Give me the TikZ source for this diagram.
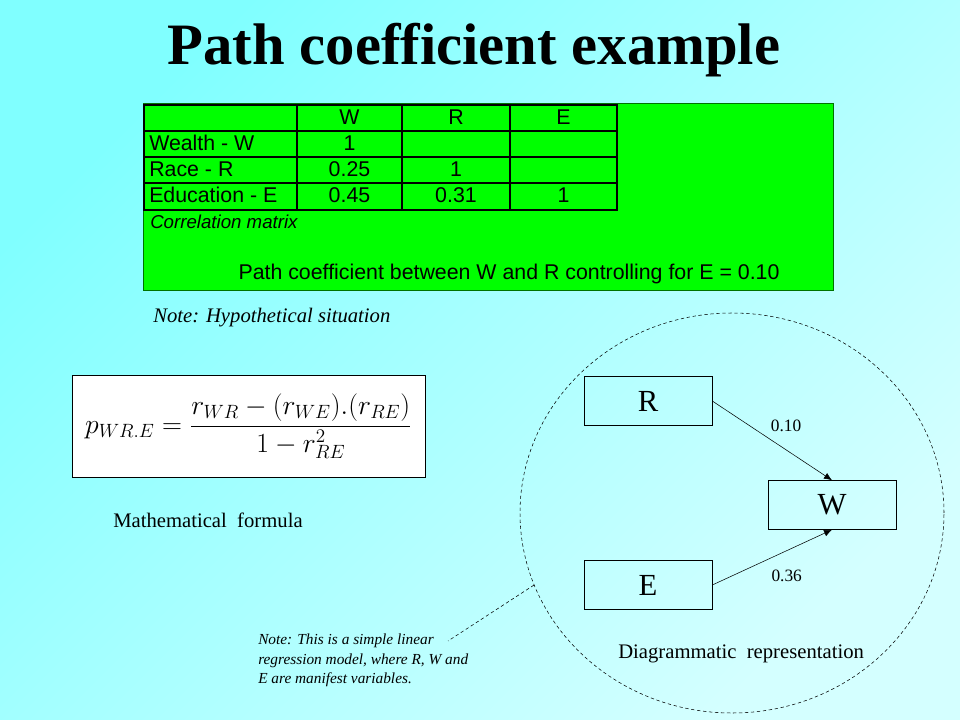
\documentclass[tikz,border=0pt]{standalone}
\usepackage{fontspec}
\setmainfont{Liberation Serif}
\newfontfamily\arialfont{Liberation Sans}
\usetikzlibrary{arrows.meta}
\usetikzlibrary{shapes.geometric}

\definecolor{bgdark}{RGB}{128,255,255}
\definecolor{bglight}{RGB}{212,255,255}
\definecolor{tablegreen}{RGB}{0,255,0}

\tikzset{
  cell/.style={font=\arialfont\fontsize{16}{18}\selectfont, inner sep=0pt},
  tablegrid/.style={line width=1.5pt},
  var/.style={draw, minimum width=96pt, minimum height=36.75pt, inner sep=0pt, font=\fontsize{23}{26}\selectfont},
  coef/.style={font=\fontsize{13}{15}\selectfont},
  caption/.style={font=\fontsize{15.5}{18}\selectfont, inner sep=0pt},
  leader/.style={dash pattern=on 2.5pt off 2pt},
}

\begin{document}
\begin{tikzpicture}[x=0.75pt, y=-0.75pt]
  \useasboundingbox (0,0) rectangle (960,720);
  \shade[top color=bgdark, bottom color=bglight, shading angle=45] (0,0) rectangle (960,720);

  \node[anchor=base, font=\fontsize{44}{50}\selectfont\bfseries] (title) at (474,65) {Path coefficient example};

  % correlation table
  \draw[fill=tablegreen, draw=green!45!black] (143,103) rectangle (833,290);
  \draw[tablegrid] (144,105) rectangle (617,210)
    (144,131) -- (617,131) (144,157) -- (617,157) (144,183) -- (617,183)
    (297,105) -- (297,210) (402,105) -- (402,210) (510,105) -- (510,210);
  \node[cell, anchor=base] (hW) at (349.5,124.5) {W};
  \node[cell, anchor=base] (hR) at (456,124.5) {R};
  \node[cell, anchor=base] (hE) at (563.5,124.5) {E};
  \node[cell, anchor=base west] (rowW) at (149,150.5) {Wealth - W};
  \node[cell, anchor=base west] (rowR) at (149,176.5) {Race - R};
  \node[cell, anchor=base west] (rowE) at (149,202.5) {Education - E};
  \node[cell, anchor=base] (WW) at (349.5,150.5) {1};
  \node[cell, anchor=base] (RW) at (349.5,176.5) {0.25};
  \node[cell, anchor=base] (RR) at (456,176.5) {1};
  \node[cell, anchor=base] (EW) at (349.5,202.5) {0.45};
  \node[cell, anchor=base] (ER) at (456,202.5) {0.31};
  \node[cell, anchor=base] (EE) at (563.5,202.5) {1};
  \node[cell, anchor=base west, font=\arialfont\fontsize{14}{16}\selectfont\itshape] (corr) at (150,229) {Correlation matrix};
  \node[cell, anchor=base] (result) at (509,280) {Path coefficient between W and R controlling for E = 0.10};

  \node[caption, anchor=base west, font=\fontsize{15.5}{18}\selectfont\itshape] (hypo) at (153,322) {Note: Hypothetical situation};

  % formula
  \node[draw, fill=white, minimum width=264.75pt, minimum height=76.5pt, font=\fontsize{20}{24}\selectfont] (formula) at (248.5,426)
    {$\displaystyle p_{WR.E} = \frac{r_{WR} - (r_{WE}).(r_{RE})}{1 - r^{2}_{RE}}$};
  \node[caption, anchor=base west] (formulacap) at (113,527) {Mathematical\ \ formula};

  % path diagram
  \node[draw, leader, ellipse, minimum width=318pt, minimum height=300pt, inner sep=0pt] (model) at (732,513) {};
  \node[var] (R) at (648,401) {R};
  \node[var] (W) at (832,505) {W};
  \node[var] (E) at (648,585) {E};
  \draw[-{Latex[length=6pt,width=5pt]}] (R.east) to node[coef, pos=0.45, above right] {0.10} (W.north);
  \draw[-{Latex[length=6pt,width=5pt]}] (E.east) to node[coef, pos=0.4, below right, xshift=5pt, yshift=-2pt] {0.36} (W.south);
  \node[caption, anchor=base west] (diagcap) at (618,658) {Diagrammatic\ \ representation};

  % note on the model
  \node[anchor=north west, inner sep=0pt, align=left, font=\fontsize{11.5}{14.6}\selectfont\itshape] (note) at (258,634)
    {Note: This is a simple linear\\regression model, where R, W and\\E are manifest variables.};
  \coordinate (notetip) at (448,641);
  \draw[leader] (model.200) -- (notetip);
\end{tikzpicture}
\end{document}
